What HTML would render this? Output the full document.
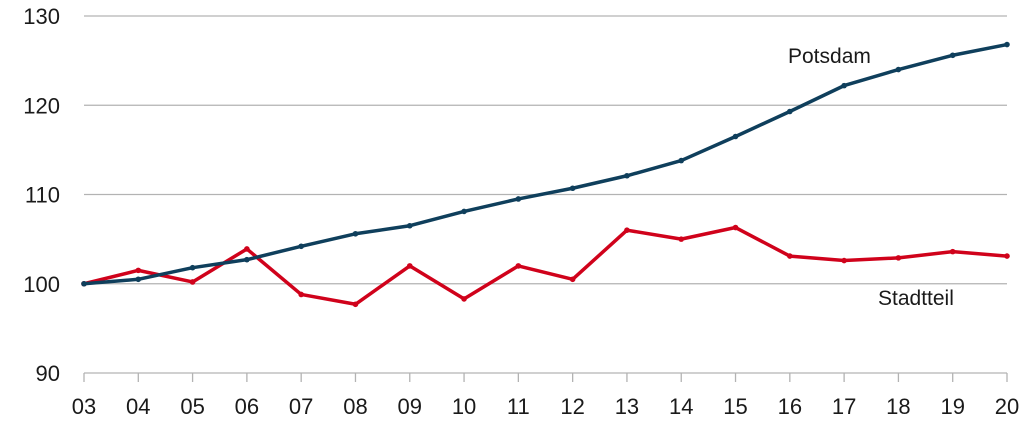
<!DOCTYPE html>
<html><head><meta charset="utf-8"><style>
html,body{margin:0;padding:0;background:#fff;}
svg{display:block;font-family:"Liberation Sans",Arial,sans-serif;}
</style></head><body>
<svg id="chart" width="1024" height="438" viewBox="0 0 1024 438" xmlns="http://www.w3.org/2000/svg">
<g id="grid"></g>
<g id="yticks"></g>
<g id="xticks"></g>
<g id="series"></g>
<text x="788" y="63" font-size="21" fill="#1a1a1a">Potsdam</text>
<text x="878" y="305" font-size="21" fill="#1a1a1a">Stadtteil</text>
</svg>
<script>
const categories = ["03","04","05","06","07","08","09","10","11","12","13","14","15","16","17","18","19","20"];
const potsdam = [100,100.5,101.8,102.7,104.2,105.6,106.5,108.1,109.5,110.7,112.1,113.8,116.5,119.3,122.2,124,125.6,126.8];
const stadtteil = [100,101.5,100.2,103.9,98.8,97.7,102,98.3,102,100.5,106,105,106.3,103.1,102.6,102.9,103.6,103.1];
const yTicks = [90,100,110,120,130];

const NS="http://www.w3.org/2000/svg";
const x0=84,x1=1007,yTop=16,yBot=373;
function xs(i){return x0+(x1-x0)*i/(categories.length-1);}
function ys(v){return yBot-(v-90)/(130-90)*(yBot-yTop);}
function mk(tag,attrs,parent){const e=document.createElementNS(NS,tag);for(const k in attrs)e.setAttribute(k,attrs[k]);parent.appendChild(e);return e;}
const grid=document.getElementById('grid'),yt=document.getElementById('yticks'),xt=document.getElementById('xticks'),ser=document.getElementById('series');
yTicks.forEach(v=>{
  const l=mk('line',{x1:x0,x2:x1,y1:ys(v),y2:ys(v),stroke:'#b3b3b3','stroke-width':1.3},grid);
  
  
  const t=mk('text',{x:60,y:ys(v)+8,'text-anchor':'end','font-size':22,fill:'#1a1a1a'},yt);
  t.textContent=v;
  
  
});
categories.forEach((c,i)=>{
  const tk=mk('line',{x1:xs(i),x2:xs(i),y1:yBot,y2:yBot+9,stroke:'#b3b3b3','stroke-width':1.3},xt);
  
  
  const t=mk('text',{x:xs(i),y:414,'text-anchor':'middle','font-size':22,fill:'#1a1a1a'},xt);
  t.textContent=c;
  
  
});
function drawSeries(data,color,name){
  const p=mk('polyline',{points:data.map((v,i)=>xs(i)+','+ys(v)).join(' '),fill:'none',stroke:color,'stroke-width':3.5,'stroke-linejoin':'round'},ser);
  
  
  data.forEach((v,i)=>{
    const c=mk('circle',{cx:xs(i),cy:ys(v),r:2.8,fill:color},ser);
    
    
  });
}
drawSeries(stadtteil,'#d0021b','stadtteil');
drawSeries(potsdam,'#0f3f5c','potsdam');
</script>
</body></html>
